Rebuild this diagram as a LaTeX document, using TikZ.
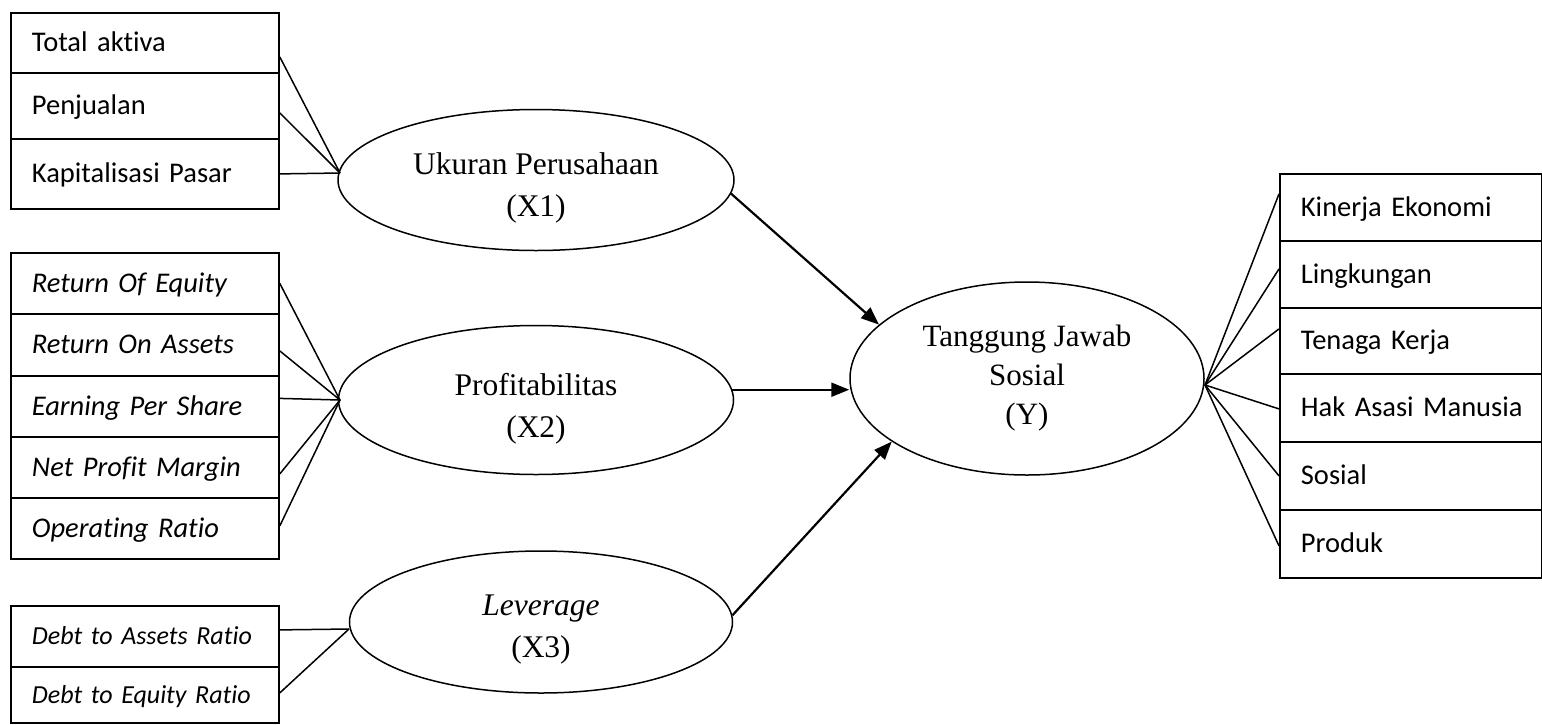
\documentclass[tikz,border=0pt]{standalone}
\usepackage{fontspec}
\setmainfont{Liberation Serif}
\newfontfamily\carlito[Ligatures=NoCommon]{Carlito}
\usetikzlibrary{shapes.geometric,arrows.meta}
\newcommand\tgap[1]{\rule{0pt}{#1pt}}
\begin{document}
\begin{tikzpicture}[x=1pt,y=-1pt,
  rowbox/.style={draw, line width=1.8pt, rectangle, anchor=north west,
    inner xsep=21pt, inner ysep=0pt, text width=226pt, align=left,
    font=\carlito\fontsize{28.5}{34}\selectfont, text height=18pt, text depth=0pt},
  rowboxr/.style={rowbox, text width=220pt},
  ital/.style={font=\carlito\itshape\fontsize{28.5}{34}\selectfont},
  itals/.style={font=\carlito\itshape\fontsize{26}{32}\selectfont, text height=17pt},
  lat/.style={ellipse, draw, line width=1.5pt, inner sep=0pt, align=center,
    font=\fontsize{31.5}{42}\selectfont},
  conn/.style={line width=1.5pt},
  path/.style={line width=2.2pt, -{Triangle[length=18pt,width=14pt]}}
]
\useasboundingbox (0,0) rectangle (1542,724);

% Box 1
\node[rowbox, minimum height=60pt] (a1) at (10,12) {Total aktiva};
\node[rowbox, minimum height=66pt] (a2) at (10,72) {Penjualan};
\node[rowbox, minimum height=70pt] (a3) at (10,138) {Kapitalisasi Pasar};

% Box 2
\node[rowbox, ital, minimum height=61pt] (b1) at (10,252) {Return Of Equity};
\node[rowbox, ital, minimum height=62pt] (b2) at (10,313) {Return On Assets};
\node[rowbox, ital, minimum height=61pt] (b3) at (10,375) {Earning Per Share};
\node[rowbox, ital, minimum height=61pt] (b4) at (10,436) {Net Profit Margin};
\node[rowbox, ital, minimum height=61pt] (b5) at (10,497) {Operating Ratio};

% Box 3
\node[rowbox, itals, minimum height=61pt] (d1) at (10,605) {Debt to Assets Ratio};
\node[rowbox, itals, minimum height=56pt] (d2) at (10,666) {Debt to Equity Ratio};

% Right box
\node[rowboxr, minimum height=67pt] (e1) at (1279,173) {Kinerja Ekonomi};
\node[rowboxr, minimum height=67pt] (e2) at (1279,240) {Lingkungan};
\node[rowboxr, minimum height=66pt] (e3) at (1279,307) {Tenaga Kerja};
\node[rowboxr, minimum height=68pt] (e4) at (1279,373) {\mbox{Hak Asasi Manusia}};
\node[rowboxr, minimum height=68pt] (e5) at (1279,441) {Sosial};
\node[rowboxr, minimum height=68pt] (e6) at (1279,509) {Produk};

% Latent variables
\node[lat, minimum width=396pt, minimum height=141pt] (x1) at (536,180) {\tgap{38}Ukuran Perusahaan\\(X1)};
\node[lat, minimum width=395pt, minimum height=149pt] (x2) at (536,400) {\tgap{40}Profitabilitas\\(X2)};
\node[lat, minimum width=383pt, minimum height=142pt] (x3) at (541,622) {\tgap{35}\textit{Leverage}\\(X3)};
\node[lat, minimum width=354pt, minimum height=193pt, font=\fontsize{31}{39}\selectfont] (y) at (1027,378.5) {Tanggung Jawab\\Sosial\\(Y)};

% Convergence points
\coordinate (c1) at (340,173);
\coordinate (c2) at (340,400);
\coordinate (c3) at (349,629);
\coordinate (cy) at (1205,385);

% Indicator connectors
\draw[conn] ([yshift=-14pt]a1.east) -- (c1);
\draw[conn] ([yshift=-7pt]a2.east) -- (c1);
\draw[conn] (a3.east) -- (c1);

\draw[conn] (b1.east) -- (c2);
\draw[conn] ([yshift=-6pt]b2.east) -- (c2);
\draw[conn] ([yshift=8pt]b3.east) -- (c2);
\draw[conn] ([yshift=-6.5pt]b4.east) -- (c2);
\draw[conn] ([yshift=2.5pt]b5.east) -- (c2);

\draw[conn] ([yshift=6.5pt]d1.east) -- (c3);
\draw[conn] ([yshift=2pt]d2.east) -- (c3);

\draw[conn] (cy) -- ([yshift=13.5pt]e1.west);
\draw[conn] (cy) -- ([yshift=5.5pt]e2.west);
\draw[conn] (cy) -- ([yshift=12pt]e3.west);
\draw[conn] (cy) -- ([yshift=-1pt]e4.west);
\draw[conn] (cy) -- (e5.west);
\draw[conn] (cy) -- ([yshift=-2pt]e6.west);

% Structural paths
\draw[path] (x1.-4) -- (y.160);
\draw[path] (x2.3) -- (x2.3 -| y.west);
\draw[path] (x3.2) -- (y.205);
\end{tikzpicture}
\end{document}
